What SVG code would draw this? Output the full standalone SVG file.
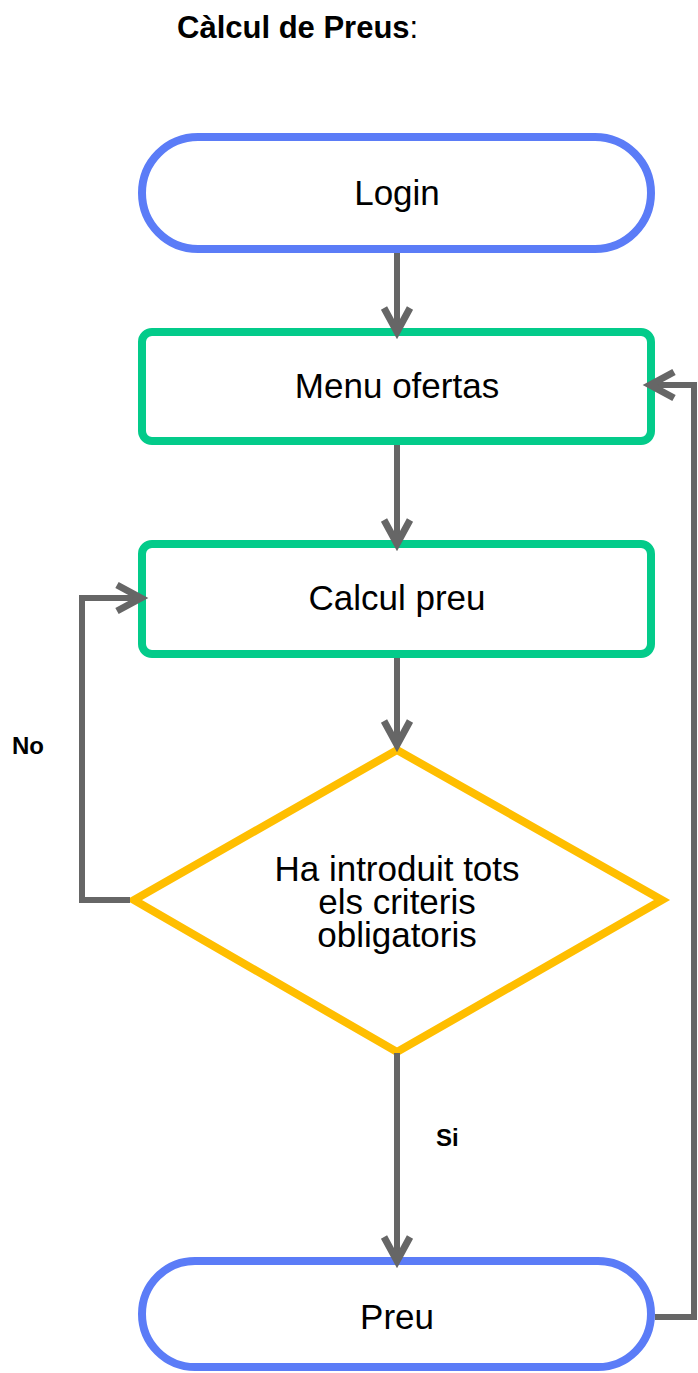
<svg xmlns="http://www.w3.org/2000/svg" width="698" height="1373" viewBox="0 0 698 1373">
<style>
.t{font-family:"Liberation Sans",Arial,sans-serif;fill:#000;text-anchor:middle}
.n{font-size:35px}
.term{fill:#fff;stroke:#5B7CF7;stroke-width:8}
.proc{fill:#fff;stroke:#03CB8A;stroke-width:8}
.dec{fill:#fff;stroke:#FFBE00;stroke-width:8;stroke-linejoin:miter}
.c{fill:none;stroke:#666;stroke-width:6}
.lbl{font-family:"Liberation Sans",Arial,sans-serif;font-weight:bold;font-size:24px;fill:#000}
</style>
<defs>
<marker id="ah" markerUnits="userSpaceOnUse" viewBox="-30 -20 42 40" refX="0" refY="0" markerWidth="42" markerHeight="40" orient="auto" overflow="visible">
<polyline points="-24,-13 0,0 -24,13" fill="none" stroke="#666" stroke-width="7" stroke-linejoin="miter" stroke-miterlimit="10"/>
</marker>
</defs>
<rect width="698" height="1373" fill="#fff"/>
<text x="177" y="38" style="font-family:'Liberation Sans',Arial,sans-serif;font-size:31px"><tspan font-weight="bold">Càlcul de Preus</tspan>:</text>
<g id="login">
<rect class="term" x="142" y="137" width="509" height="112" rx="56" ry="56"/>
<text class="t n" x="397" y="205">Login</text>
</g>
<g id="menu">
<rect class="proc" x="142" y="332" width="509" height="109" rx="10" ry="10"/>
<text class="t n" x="397" y="398">Menu ofertas</text>
</g>
<g id="calcul">
<rect class="proc" x="142" y="544" width="509" height="110" rx="10" ry="10"/>
<text class="t n" x="397" y="610">Calcul preu</text>
</g>
<g id="decision">
<polygon class="dec" points="397,750 662,900 397,1052 134,900"/>
<text class="t n" x="397" y="881">Ha introduit tots</text>
<text class="t n" x="397" y="914">els criteris</text>
<text class="t n" x="397" y="947">obligatoris</text>
</g>
<g id="preu">
<rect class="term" x="142" y="1261" width="509" height="106" rx="53" ry="53"/>
<text class="t n" x="397" y="1329">Preu</text>
</g>
<g id="connectors">
<line class="c" x1="397" y1="253" x2="397" y2="332" marker-end="url(#ah)"/>
<line class="c" x1="397" y1="445" x2="397" y2="544" marker-end="url(#ah)"/>
<line class="c" x1="397" y1="658" x2="397" y2="745" marker-end="url(#ah)"/>
<polyline class="c" points="130,900 82,900 82,598 141,598" marker-end="url(#ah)"/>
<line class="c" x1="397" y1="1053" x2="397" y2="1261" marker-end="url(#ah)"/>
<polyline class="c" points="655,1317 694,1317 694,385 650,385" marker-end="url(#ah)"/>
<text class="lbl" x="12" y="754">No</text>
<text class="lbl" x="436" y="1146">Si</text>
</g>
</svg>
